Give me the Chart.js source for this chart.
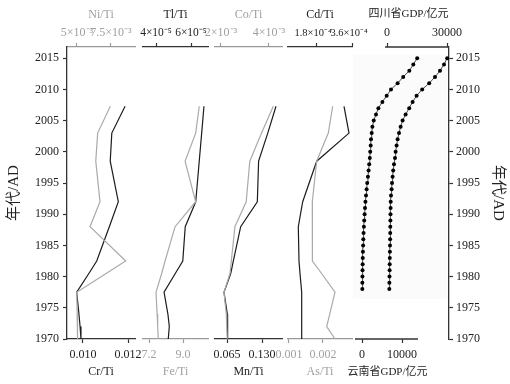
<!DOCTYPE html>
<html>
<head>
<meta charset="utf-8">
<script src="https://cdn.jsdelivr.net/npm/chart.js@4.4.1/dist/chart.umd.min.js"></script>
<style>
  body { margin: 0; background: #fff; }
  #wrap { position: relative; width: 510px; height: 384px; }
  #wrap canvas { position: absolute; left: 0; top: 0; }
</style>
</head>
<body>
<div id="wrap">
  <canvas id="p5a" width="510" height="384"></canvas>
  <canvas id="p5b" width="510" height="384"></canvas>
  <canvas id="p1" width="510" height="384"></canvas>
  <canvas id="p2" width="510" height="384"></canvas>
  <canvas id="p3" width="510" height="384"></canvas>
  <canvas id="p4" width="510" height="384"></canvas>
</div>
<script>
// sample depths as years
const sampleYears = [2007.3, 2003, 1998.5, 1992, 1988, 1982.5, 1980.5, 1977.5, 1974, 1972, 1970];

const crTi = [0.01187, 0.01128, 0.01121, 0.01157, 0.01117, 0.01061, 0.01026, 0.00972, 0.00982, 0.00987, 0.00991];
const niTi = [0.00745, 0.00652, 0.00638, 0.00669, 0.00596, 0.00858, 0.00714, 0.00498, 0.00501, 0.00503, 0.00505];
const tlTi = [6.74e-5, 6.61e-5, 6.47e-5, 6.27e-5, 5.67e-5, 5.53e-5, 5.10e-5, 4.46e-5, 4.68e-5, 4.76e-5, 4.70e-5];
const feTi = [9.86, 9.67, 9.11, 9.67, 8.58, 8.05, 7.87, 7.57, 7.63, 7.66, 7.69];
const mnTi = [0.1560, 0.1407, 0.1237, 0.1213, 0.0904, 0.0767, 0.0719, 0.0594, 0.0656, 0.0660, 0.0663];
const coTi = [0.00418, 0.00369, 0.00320, 0.00305, 0.00258, 0.00243, 0.002375, 0.002125, 0.00222, 0.00224, 0.00226];
const cdTi = [3.20e-4, 3.45e-4, 1.835e-4, 1.135e-4, 0.915e-4, 0.95e-4, 1.00e-4, 1.085e-4, 1.085e-4, 1.085e-4, 1.085e-4];
const asTi = [0.002285, 0.002156, 0.001815, 0.001685, 0.00168, 0.001697, 0.00196, 0.002353, 0.002198, 0.002109, 0.002353];

const gdpYears = [1978, 1979, 1980, 1981, 1982, 1983, 1984, 1985, 1986, 1987, 1988, 1989, 1990,
  1991, 1992, 1993, 1994, 1995, 1996, 1997, 1998, 1999, 2000, 2001, 2002, 2003, 2004, 2005,
  2006, 2007, 2008, 2009, 2010, 2011, 2012, 2013, 2014, 2015];
const yunnanGdp = [80, 90, 110, 130, 160, 190, 230, 280, 330, 390, 470, 560, 650,
  750, 860, 1000, 1150, 1300, 1480, 1650, 1800, 1950, 2050, 2170, 2250, 2420, 2600, 2930,
  3500, 4100, 5100, 6170, 7250, 8900, 10300, 11830, 12830, 13800];
const sichuanGdp = [1150, 1200, 1250, 1300, 1350, 1400, 1450, 1500, 1550, 1600, 1650, 1700, 1750,
  1800, 1850, 2000, 2300, 2500, 2800, 3100, 3500, 4000, 4300, 4800, 5300, 6000, 6800, 7800,
  9300, 11100, 12800, 14800, 17600, 21100, 24000, 26500, 28500, 30100];

const yearTicks = [1970, 1975, 1980, 1985, 1990, 1995, 2000, 2005, 2010, 2015];

// tick values + labels for each x axis
const crTicks = [0.010, 0.012], crLabels = ['0.010', '0.012'];
const niTicks = [0.005, 0.0075], niLabels = ['5×10⁻³', '7.5×10⁻³'];
const feTicks = [7.2, 9.0], feLabels = ['7.2', '9.0'];
const tlTicks = [4e-5, 6e-5], tlLabels = ['4×10⁻⁵', '6×10⁻⁵'];
const mnTicks = [0.065, 0.130], mnLabels = ['0.065', '0.130'];
const coTicks = [0.002, 0.004], coLabels = ['2×10⁻³', '4×10⁻³'];
const asTicks = [0.001, 0.002], asLabels = ['0.001', '0.002'];
const cdTicks = [1.8e-4, 3.6e-4], cdLabels = ['1.8×10⁻⁴', '3.6×10⁻⁴'];
const ynTicks = [0, 10000], ynLabels = ['0', '10000'];
const scTicks = [0, 30000], scLabels = ['0', '30000'];

const serif = "'Liberation Serif', 'Noto Sans CJK SC', serif";
const BLACK = '#1c1c1c', GREY = '#aaaaaa';
const AX_BLACK = '#333333', AX_GREY = '#9a9a9a';
const TXT_BLACK = '#222222', TXT_GREY = '#a0a0a0';

function pts(xs, ys) {
  return xs.map((v, i) => ({ x: v, y: ys[i] }));
}

function xAxis(pos, min, max, tickVals, tickText, title, dark, extra) {
  extra = extra || {};
  const lineCol = dark ? AX_BLACK : AX_GREY;
  const txtCol = dark ? TXT_BLACK : TXT_GREY;
  return {
    type: 'linear', position: pos, min: min, max: max,
    afterBuildTicks: s => { s.ticks = tickVals.map(v => ({ value: v })); },
    afterFit: s => {
      s.height = pos === 'top' ? 47 : 45;
      s.paddingLeft = 0; s.paddingRight = 0;
    },
    border: { display: extra.border !== false, color: lineCol, width: 1.3 },
    grid: { display: true, drawOnChartArea: false, drawTicks: true, tickLength: 4, tickColor: lineCol, tickWidth: 1.2 },
    ticks: {
      color: txtCol, font: { family: serif, size: extra.tickSize || 12 }, padding: pos === 'top' ? 3 : 5,
      maxRotation: 0, minRotation: 0, autoSkip: false, labelOffset: extra.labelOffset || 0,
      callback: (v, i) => tickText[i]
    },
    title: {
      display: true, text: title, color: txtCol, font: { family: serif, size: extra.titleSize || 12 },
      padding: pos === 'top' ? { top: 8, bottom: 0 } : { top: 0, bottom: 5 }
    }
  };
}

function yearAxis(pos, show) {
  return {
    type: 'linear', position: pos, min: 1970, max: 2016.8, display: show,
    afterBuildTicks: s => { s.ticks = yearTicks.map(v => ({ value: v })); },
    afterFit: s => {
      s.width = show ? (pos === 'left' ? 67 : 61) : 0;
      s.paddingTop = 0; s.paddingBottom = 0;
    },
    border: { display: true, color: AX_BLACK, width: 1.3 },
    grid: { display: true, drawOnChartArea: false, drawTicks: true, tickLength: 4, tickColor: AX_BLACK, tickWidth: 1.2 },
    ticks: {
      color: TXT_BLACK, font: { family: serif, size: 12 }, padding: pos === 'left' ? 4 : 3,
      autoSkip: false, callback: v => String(v)
    },
    title: {
      display: true, text: '年代/AD', color: TXT_BLACK, font: { family: serif, size: 15 },
      padding: { top: pos === 'left' ? 5 : 3, bottom: 0 }
    }
  };
}

// axis line covering only part of the scale, plus the faint panel backdrop (GDP panel)
const gdpDecor = {
  id: 'gdpDecor',
  beforeDatasetsDraw(chart, args, opts) {
    if (!opts.shade) return;
    const s = chart.scales[opts.scale], y = chart.scales.y;
    const ctx = chart.ctx;
    const x0 = s.getPixelForValue(opts.shade[0]), x1 = s.getPixelForValue(opts.shade[1]);
    const y0 = y.getPixelForValue(opts.shade[2]), y1 = y.getPixelForValue(opts.shade[3]);
    ctx.save();
    ctx.fillStyle = '#fbfbfb';
    ctx.fillRect(x0, y0, x1 - x0, y1 - y0);
    ctx.restore();
  },
  afterDraw(chart, args, opts) {
    if (!opts.scale) return;
    const s = chart.scales[opts.scale];
    const y = s.position === 'top' ? s.bottom : s.top;
    const ctx = chart.ctx;
    ctx.save();
    ctx.strokeStyle = AX_BLACK;
    ctx.lineWidth = 1.3;
    ctx.beginPath();
    ctx.moveTo(s.getPixelForValue(opts.from), y);
    ctx.lineTo(s.getPixelForValue(opts.to), y);
    ctx.stroke();
    ctx.restore();
  }
};

function lineSet(xs, xId, color) {
  return {
    data: pts(xs, sampleYears), xAxisID: xId, yAxisID: 'y', showLine: true,
    borderColor: color, borderWidth: 1.2, pointRadius: 0, clip: false, tension: 0
  };
}

function dotSet(xs, xId) {
  return {
    data: pts(xs, gdpYears), xAxisID: xId, yAxisID: 'y', showLine: true,
    borderColor: '#000', borderWidth: 0.7, pointRadius: 2,
    pointBackgroundColor: '#000', pointBorderWidth: 0, clip: false
  };
}

function panel(id, pad, scales, datasets, decor) {
  return new Chart(document.getElementById(id), {
    type: 'scatter',
    data: { datasets: datasets },
    options: {
      responsive: false, animation: false,
      layout: { padding: pad },
      plugins: { legend: { display: false }, tooltip: { enabled: false }, gdpDecor: decor || {} },
      scales: scales
    },
    plugins: [gdpDecor]
  });
}

panel('p1', { left: 0, right: 375, top: 0, bottom: 0 }, {
  xt: xAxis('top', 0.004265, 0.009265, niTicks, niLabels, 'Ni/Ti', false),
  xb: xAxis('bottom', 0.009289, 0.012311, crTicks, crLabels, 'Cr/Ti', true),
  y: yearAxis('left', true)
}, [lineSet(niTi, 'xt', GREY), lineSet(crTi, 'xb', BLACK)]);

panel('p2', { left: 143, right: 302, top: 0, bottom: 0 }, {
  xt: xAxis('top', 3.257e-5, 6.971e-5, tlTicks, tlLabels, 'Tl/Ti', true, { tickSize: 11.5 }),
  xb: xAxis('bottom', 6.882, 10.323, feTicks, feLabels, 'Fe/Ti', false),
  y: yearAxis('left', false)
}, [lineSet(feTi, 'xb', GREY), lineSet(tlTi, 'xt', BLACK)]);

panel('p3', { left: 215, right: 228, top: 0, bottom: 0 }, {
  xt: xAxis('top', 0.00175, 0.004542, coTicks, coLabels, 'Co/Ti', false),
  xb: xAxis('bottom', 0.04271, 0.16714, mnTicks, mnLabels, 'Mn/Ti', true),
  y: yearAxis('left', false)
}, [lineSet(coTi, 'xt', GREY), lineSet(mnTi, 'xb', BLACK)]);

panel('p4', { left: 288, right: 158, top: 0, bottom: 0 }, {
  xt: xAxis('top', 4.0e-5, 3.6e-4, cdTicks, cdLabels, 'Cd/Ti', true, { tickSize: 10.5, labelOffset: -3 }),
  xb: xAxis('bottom', 0.000971, 0.002853, asTicks, asLabels, 'As/Ti', false),
  y: yearAxis('left', false)
}, [lineSet(asTi, 'xb', GREY), lineSet(cdTi, 'xt', BLACK)]);

// Yunnan: area 345-430, 0 at 362, 10000 at 402
panel('p5a', { left: 345, right: 80, top: 47, bottom: 0 }, {
  xb: xAxis('bottom', -4250, 17000, ynTicks, ynLabels, '云南省GDP/亿元', true, { titleSize: 11, border: false }),
  y: yearAxis('left', false)
}, [dotSet(yunnanGdp, 'xb')], { scale: 'xb', from: -1750, to: 14000, shade: [-2250, 21250, 2015.6, 1976.4] });

// Sichuan: area 368-449, 0 at 387, 30000 at 447
panel('p5b', { left: 368, right: 0, top: 0, bottom: 45 }, {
  xt: xAxis('top', -9500, 31000, scTicks, scLabels, '四川省GDP/亿元', true, { titleSize: 11, border: false }),
  y: yearAxis('right', true)
}, [dotSet(sichuanGdp, 'xt')], { scale: 'xt', from: -1000, to: 31000 });
</script>
</body>
</html>
